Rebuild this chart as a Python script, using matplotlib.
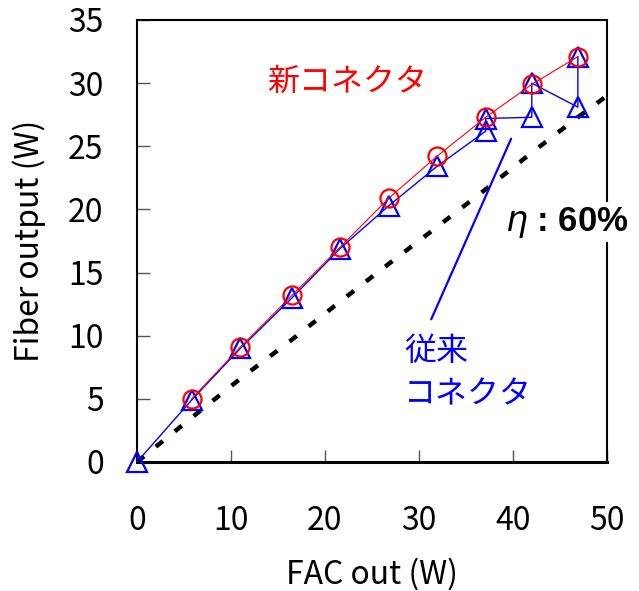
import matplotlib
matplotlib.use("Agg")
import matplotlib.pyplot as plt

plt.rcParams['font.family'] = ['Noto Sans CJK JP', 'DejaVu Sans']
plt.rcParams['lines.scale_dashes'] = False

# Data
new_x = [5.8, 11.0, 16.5, 21.6, 26.8, 31.9, 37.1, 42.0, 46.9]
new_y = [5.0, 9.1, 13.2, 17.0, 20.9, 24.2, 27.3, 29.9, 32.1]

old_x = [0, 5.8, 11.0, 16.5, 21.6, 26.8, 31.9, 37.1, 37.1, 42.0, 42.0, 46.9, 46.9]
old_y = [0, 4.9, 9.0, 13.0, 16.9, 20.3, 23.4, 26.2, 27.2, 27.3, 30.0, 28.1, 32.1]

eta_x = [0, 5.8, 11.0, 16.5, 21.6, 26.8, 31.9, 37.1, 42.0, 46.9, 50]
eta_y = [0, 3.5, 6.6, 9.7, 12.7, 15.7, 18.6, 21.6, 24.5, 27.3, 29.0]

x_ticks = [0, 10, 20, 30, 40, 50]
y_ticks = [0, 5, 10, 15, 20, 25, 30, 35]

fig = plt.figure(figsize=(6.39, 5.91), dpi=100)
ax = fig.add_axes([137/639, 1-462/591, 470/639, 442/591])

ax.plot(eta_x, eta_y, color='black', lw=3.2, dashes=(6.5, 11), dash_capstyle='butt', zorder=2)
ax.plot(old_x, old_y, color='#0000ff', lw=1.0, marker='^', ms=14.5, mfc='none',
        mec='#0000ff', mew=1.6, zorder=3, clip_on=False)
ax.plot(new_x, new_y, color='#ff0000', lw=0.8, marker='o', ms=13, mfc='none',
        mec='#ff0000', mew=1.6, zorder=4, clip_on=False)

ax.set_xlim(0, 50)
ax.set_ylim(0, 35)
ax.set_xticks(x_ticks)
ax.set_yticks(y_ticks)
ax.tick_params(axis='both', direction='in', length=9, width=1.0, color='#555555',
               labelsize=23, colors='black')
ax.tick_params(axis='x', pad=31, color='#555555')
ax.tick_params(axis='y', pad=24, color='#555555')
for s in ['left', 'top', 'right']:
    ax.spines[s].set_linewidth(1.5)
ax.spines['bottom'].set_linewidth(2.2)

fig.text(372/639, 7/591, 'FAC out (W)', ha='center', va='baseline', fontsize=23)
fig.text(29/639, 1-241/591, 'Fiber output (W)', ha='center', va='center',
         rotation=90, fontsize=23)

ax.text(22.3, 30.1, '新コネクタ', color='#ff0000', fontsize=23, ha='center', va='center')
ax.annotate('', xy=(39.8, 25.6), xytext=(31.3, 11.3),
            arrowprops=dict(arrowstyle='-', color='#0000ff', lw=1.6,
                            shrinkA=0, shrinkB=0))
ax.text(28.4, 7.1, '従来\nコネクタ', color='#0000ff', fontsize=23,
        ha='left', va='center', linespacing=1.45)
ax.text(45.7, 19.0, r'$\eta$ : 60%', fontsize=25, fontweight='bold',
        family=['Liberation Sans', 'DejaVu Sans'], ha='center', va='center',
        clip_on=False, zorder=10,
        bbox=dict(facecolor='white', edgecolor='none', pad=2))

fig.savefig('out.png', dpi=100)
